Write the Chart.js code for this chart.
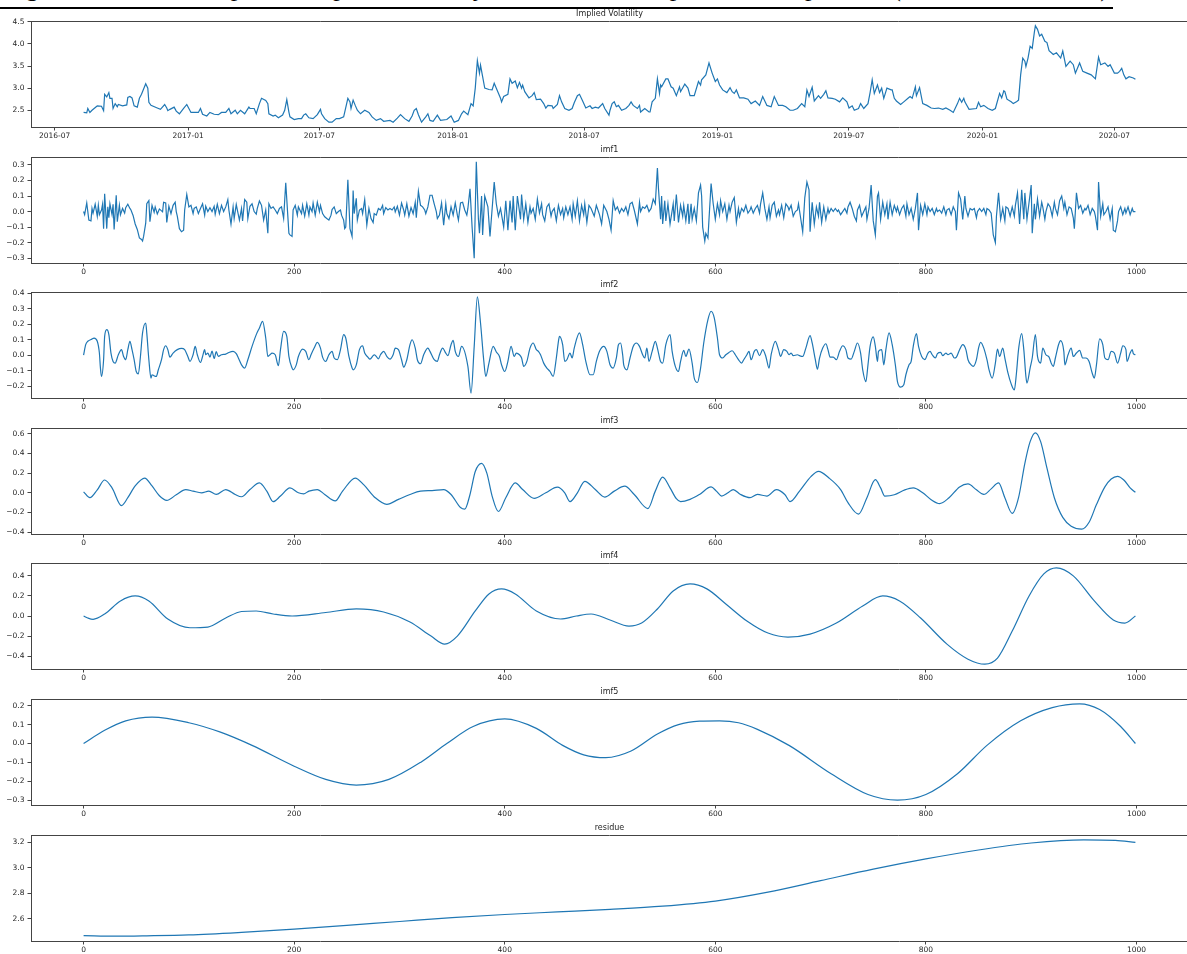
<!DOCTYPE html>
<html>
<head>
<meta charset="utf-8">
<script src="https://cdn.jsdelivr.net/npm/chart.js@4.4.1/dist/chart.umd.min.js"></script>
<style>
  html, body { margin: 0; padding: 0; background: #fff; overflow: hidden; }
  #wrap { position: relative; width: 1187px; height: 954px; overflow: hidden; background: #fff; }
  .panel { position: absolute; left: 0; }
  #caption { position: absolute; left: 4px; top: -25px; margin: 0; font: 26px "Liberation Serif", "DejaVu Serif", serif;
             line-height: 26px; white-space: nowrap; color: #000; }
  #rule { position: absolute; left: 0; top: 7px; width: 1113px; height: 2px; background: #000; }
</style>
</head>
<body>
<div id="wrap">
  <p id="caption">Figure 4: Time series plot of implied volatility and EMD decomposition components (imf1–imf5, residue)</p>
  <div id="rule"></div>
</div>
<script>
// ---- series data: [trading-day index, value] ----
const ivStartDate = '2016-08-10';
const ivEndDate = '2020-07-30';
const dateTickLabels = ['2016-07','2017-01','2017-07','2018-01','2018-07','2019-01','2019-07','2020-01','2020-07'];
const panelTitles = ['Implied Volatility','imf1','imf2','imf3','imf4','imf5','residue'];
const yTickSteps = [0.5, 0.1, 0.1, 0.2, 0.2, 0.1, 0.2];
const indexTickStep = 200;

const ivPoints = [
[0,2.45],[3,2.44],[4,2.54],[6,2.45],[8,2.50],[12,2.58],[13,2.60],[17,2.59],[19,2.49],[20,2.86],[22,2.80],[24,2.90],[25,2.77],[27,2.77],[28,2.54],[30,2.65],[32,2.58],[33,2.63],[37,2.60],[41,2.62],[42,2.79],[44,2.81],[46,2.78],[48,2.60],[51,2.57],[53,2.77],[55,2.86],[59,3.10],[61,3.00],[62,2.68],[64,2.61],[70,2.55],[73,2.52],[77,2.63],[79,2.55],[80,2.49],[82,2.52],[86,2.57],[88,2.48],[91,2.42],[95,2.54],[98,2.63],[100,2.54],[102,2.45],[106,2.45],[109,2.45],[111,2.54],[113,2.41],[117,2.37],[120,2.45],[124,2.41],[128,2.40],[131,2.45],[135,2.45],[138,2.54],[140,2.42],[144,2.50],[146,2.42],[149,2.50],[153,2.42],[157,2.57],[158,2.54],[162,2.54],[164,2.42],[167,2.65],[169,2.77],[173,2.72],[175,2.65],[176,2.42],[180,2.37],[182,2.39],[185,2.33],[189,2.39],[191,2.50],[193,2.74],[195,2.46],[196,2.35],[200,2.29],[204,2.31],[207,2.31],[209,2.39],[211,2.42],[214,2.33],[218,2.31],[222,2.40],[225,2.52],[226,2.42],[229,2.31],[233,2.23],[236,2.23],[240,2.31],[243,2.31],[247,2.35],[251,2.77],[253,2.69],[254,2.54],[256,2.73],[258,2.61],[260,2.50],[263,2.42],[267,2.50],[271,2.45],[274,2.35],[278,2.27],[282,2.31],[285,2.25],[291,2.27],[294,2.23],[298,2.32],[301,2.40],[305,2.31],[309,2.25],[312,2.37],[314,2.50],[316,2.54],[318,2.40],[321,2.23],[325,2.35],[327,2.42],[329,2.27],[332,2.25],[336,2.39],[339,2.27],[345,2.29],[349,2.37],[352,2.23],[356,2.27],[359,2.42],[361,2.48],[365,2.40],[368,2.65],[370,2.60],[372,3.00],[374,3.62],[376,3.34],[377,3.52],[379,3.26],[381,3.00],[385,2.97],[388,2.96],[390,3.11],[392,3.00],[396,2.77],[397,2.69],[399,2.81],[403,2.86],[405,3.21],[407,3.11],[410,3.16],[412,3.01],[414,3.13],[416,3.00],[417,3.07],[419,2.92],[423,2.78],[426,2.83],[428,2.90],[430,2.74],[434,2.75],[437,2.65],[439,2.55],[441,2.61],[445,2.60],[446,2.54],[450,2.63],[452,2.83],[454,2.69],[457,2.54],[461,2.50],[464,2.54],[466,2.67],[469,2.83],[471,2.86],[474,2.71],[477,2.55],[481,2.60],[483,2.54],[486,2.57],
[489,2.55],[493,2.65],[495,2.54],[499,2.39],[500,2.50],[502,2.65],[504,2.69],[506,2.58],[508,2.61],[511,2.50],[515,2.54],[518,2.61],[520,2.69],[522,2.61],[526,2.54],[528,2.61],[529,2.46],[533,2.54],[537,2.46],[538,2.46],[540,2.69],[543,2.77],[545,3.21],[547,2.88],[548,3.07],[549,3.03],[553,3.21],[555,3.21],[558,3.03],[560,3.00],[563,2.83],[566,3.03],[567,2.92],[571,3.09],[574,3.00],[576,2.83],[580,2.83],[584,3.15],[586,3.07],[587,3.19],[591,3.30],[594,3.57],[597,3.34],[600,3.15],[602,3.21],[604,3.07],[607,2.96],[611,2.90],[614,3.01],[616,2.92],[618,2.88],[620,2.96],[623,2.78],[627,2.78],[631,2.75],[634,2.65],[638,2.71],[642,2.61],[645,2.81],[649,2.61],[653,2.58],[656,2.81],[660,2.61],[664,2.61],[667,2.58],[671,2.50],[674,2.50],[678,2.54],[682,2.65],[685,2.58],[687,2.96],[689,2.81],[692,3.02],[694,2.71],[698,2.83],[700,2.77],[703,2.86],[705,2.94],[707,2.78],[711,2.77],[714,2.75],[718,2.69],[721,2.78],[725,2.69],[727,2.55],[730,2.60],[732,2.50],[736,2.54],[738,2.65],[741,2.54],[745,2.65],[747,2.90],[749,3.19],[751,2.88],[754,3.07],[756,2.90],[758,3.00],[760,2.77],[763,3.00],[767,2.96],[768,2.96],[770,2.77],[772,2.71],[776,2.63],[779,2.69],[783,2.77],[785,2.81],[787,2.77],[790,3.03],[791,2.83],[794,3.01],[797,2.65],[801,2.61],[805,2.55],[808,2.54],[812,2.55],[816,2.52],[819,2.55],[823,2.50],[826,2.45],[830,2.65],[832,2.77],[834,2.68],[836,2.77],[837,2.69],[841,2.52],[848,2.54],[850,2.68],[852,2.58],[855,2.61],[859,2.54],[863,2.50],[866,2.54],[870,2.88],[872,2.78],[874,2.94],[875,2.92],[877,2.75],[881,2.69],[883,2.65],[886,2.69],[888,2.73],[890,3.30],[892,3.68],[894,3.61],[895,3.49],[897,3.68],[899,3.95],[901,3.90],[903,4.26],[904,4.41],[906,4.33],[908,4.18],[910,4.22],[913,4.06],[915,4.03],[917,3.85],[921,3.76],[924,3.80],[928,3.68],[930,3.84],[933,3.49],[937,3.61],[940,3.53],[942,3.34],[946,3.57],[949,3.38],[953,3.34],[957,3.30],[961,3.21],[964,3.70],[966,3.53],[970,3.57],[973,3.49],[975,3.53],[979,3.34],[982,3.34],[984,3.38],[986,3.45],[988,3.30],[990,3.21],[993,3.26],[997,3.23],[999,3.20]
];

const imf1Points = [
[0,0],[1,-0.02],[3,0.055],[5,-0.055],[7,-0.06],[8,0.02],[9,-0.01],[11,0.047],[13,-0.03],[14,0.04],[15,-0.02],[17,0.01],[18,0.047],[19,-0.11],[20,0.115],[22,-0.11],[23,0.03],[24,-0.04],[25,0.05],[27,-0.02],[28,0.047],[29,-0.115],[31,0.105],[32,-0.065],[34,0.04],[35,-0.02],[37,0.02],[39,-0.01],[40,0.025],[42,0.047],[44,0.02],[45,0.01],[47,-0.025],[49,-0.08],[51,-0.115],[53,-0.17],[55,-0.18],[56,-0.19],[57,-0.16],[59,-0.075],[60,0.05],[62,0.07],[63,-0.065],[65,0.04],[67,-0.005],[68,0.03],[70,-0.015],[72,0.017],[75,-0.002],[76,0.06],[78,0.055],[79,-0.07],[81,0.035],[83,-0.013],[85,0.04],[87,0.06],[88,0],[89,-0.03],[91,-0.11],[93,-0.13],[95,-0.12],[96,0.01],[98,0.11],[100,0.03],[102,0.04],[104,-0.013],[105,0.02],[107,0.03],[109,-0.013],[111,0.02],[113,0.05],[115,-0.023],[116,0.034],[118,0],[120,0.025],[122,0],[124,0.034],[125,-0.017],[127,0.047],[129,-0.013],[131,0.04],[133,0],[135,0.03],[137,0.077],[138,0.01],[140,-0.08],[142,0.03],[143,-0.045],[145,0.045],[148,-0.055],[150,0.02],[151,-0.06],[153,0.077],[155,0.06],[156,-0.045],[158,0.034],[160,0.05],[162,0],[164,-0.017],[165,0.02],[167,0.068],[169,0.04],[171,-0.055],[173,0.01],[175,-0.14],[176,0.05],[178,0.02],[180,0.03],[182,0.01],[184,-0.013],[186,0.02],[188,0.03],[190,-0.045],[192,0.185],[195,-0.14],[196,-0.15],[198,-0.16],[199,0.01],[201,0.04],[203,-0.023],[204,0.03],[207,-0.013],[208,0.04],[210,-0.03],[212,0.05],[214,-0.023],[215,0.03],[217,0],[218,0.055],[220,-0.023],[222,0.06],[224,0],[225,0.04],[227,-0.013],[229,-0.034],[231,-0.045],[233,-0.055],[235,-0.023],[236,0.013],[238,0.03],[240,-0.013],[242,0],[244,0.01],[245,-0.023],[247,-0.055],[248,-0.11],[249,-0.1],[251,0.205],[252,0.05],[253,-0.11],[255,-0.16],[256,0.135],[257,-0.013],[259,0.085],[260,-0.055],[262,0.01],[264,0.02],[265,-0.013],[267,0.077],[269,-0.087],[271,0.02],[273,-0.045],[275,-0.07],[276,-0.013],[278,-0.023],[280,0.02],[282,0.01],[284,0.04],[285,-0.013],[287,0.025],[289,0.01],[291,0.02],[293,0.01],[295,0.03],[296,-0.002],[298,0.034],[300,-0.023],[302,0.055],[304,0.01],[305,-0.023],[307,0.05],[309,-0.03],[311,0.025],[313,-0.013],[315,0.06],[316,-0.04],[318,0.13],[320,0.04],[322,0.03],[324,0.01],[325,-0.013],[327,0.03],[329,0.105],[331,0.105],[333,0.05],[335,0],[336,-0.045],[338,-0.023],[340,0.055],[342,-0.087],[344,0.05],[345,-0.013],[347,-0.045],[349,0.03],[351,-0.023],[353,0.055],[355,-0.023],[356,-0.055],[358,0.055],[360,0.06],[362,0.01],[364,-0.023],[365,0.02],[367,0.147],[369,-0.1],[371,-0.3],[373,0.32],[375,-0.05],[376,-0.14],[378,0.1],[379,-0.15],[381,0.1],[384,0.03],[386,-0.16],[390,0.19],[392,0.05],[394,-0.03],[396,0.02],[399,-0.1],[401,0.07],[403,-0.12],[405,0.07],[407,-0.07],[408,0.1],[410,-0.12],[412,0.1],[415,-0.05],[416,0.11],[418,-0.05],[420,0.05],[422,-0.07],[424,0.03],[425,-0.01],[427,0.02],[429,-0.05],[431,0.08],[433,-0.01],[435,0.05],[436,-0.02],[438,-0.06],[440,0.03],[442,0.05],[444,-0.03],[445,0],[447,0.02],[449,-0.06],[451,0.04],[453,-0.02],[455,0.02],[456,-0.04],[458,0.03],[460,-0.02],[462,0.03],[464,-0.05],[465,0.05],[467,-0.03],[469,0.07],[471,-0.06],[473,0.04],[475,-0.02],[476,0.05],[478,-0.07],[480,0.04],
[482,0.02],[485,-0.03],[487,0.04],[490,-0.02],[492,-0.08],[494,0.04],[497,0],[499,-0.05],[501,-0.12],[503,0.07],[505,0.01],[507,0.03],[509,-0.01],[511,0.02],[513,0],[515,0.03],[517,-0.02],[519,0.05],[521,0.06],[523,0.01],[526,-0.08],[528,0.06],[529,0],[531,0.03],[533,0.02],[535,0.04],[537,0],[539,0.02],[541,0.08],[543,0.05],[545,0.28],[546,0.15],[548,-0.05],[549,0.1],[550,-0.08],[552,0.07],[553,-0.06],[555,0.05],[557,-0.08],[560,0.05],[561,-0.06],[563,0.11],[565,-0.07],[567,0.04],[569,-0.03],[570,0.04],[572,-0.06],[574,0.05],[575,-0.08],[577,0.05],[578,-0.05],[580,0.02],[582,-0.06],[584,0.12],[586,0.17],[587,0.1],[588,-0.1],[590,-0.19],[591,-0.14],[593,-0.17],[594,-0.05],[596,0.18],[598,0.05],[600,-0.05],[602,0.05],[604,-0.02],[605,0.07],[607,0],[609,0.05],[611,-0.05],[613,0.04],[614,0],[616,0.06],[618,0.09],[620,-0.07],[622,0.02],[623,-0.03],[625,0.02],[627,0],[629,0.04],[631,-0.01],[633,0.01],[634,0.03],[636,-0.01],[638,0.02],[640,0.04],[642,-0.01],[643,0.05],[645,0.12],[647,0.02],[649,-0.05],[651,0.03],[652,-0.04],[654,0.04],[656,0.06],[658,-0.03],[660,0.01],[661,-0.02],[663,0.04],[665,-0.04],[667,0.05],[669,0.03],[670,0.01],[672,0.04],[674,-0.03],[676,0],[678,0.01],[679,0.05],[681,-0.04],[683,-0.13],[685,0.09],[687,0.19],[689,0.14],[690,-0.13],[692,0.06],[694,-0.08],[696,0.03],[698,-0.03],[699,0.06],[701,-0.07],[703,0.03],[705,-0.05],[707,0.02],[708,-0.01],[710,0.02],[712,0],[714,0.02],[716,0],[717,0.01],[719,-0.02],[721,0],[723,0.02],[725,-0.01],[726,0.03],[728,0.06],[730,0.02],[732,-0.03],[734,-0.06],[735,0.01],[737,0.04],[739,-0.03],[741,0],[743,0.03],[744,-0.05],[746,0.02],[748,0.17],[750,-0.06],[752,-0.15],[754,0.1],[755,0.12],[757,-0.05],[759,0.06],[761,-0.02],[763,0.05],[764,-0.05],[766,0.06],[768,-0.02],[770,0.04],[772,0],[773,0.03],[775,-0.02],[777,0.02],[779,0.04],[781,-0.03],[782,0.05],[784,-0.02],[786,0.02],[788,-0.05],[790,0.02],[792,0.12],[793,-0.12],[795,0.04],[797,-0.02],[799,0.05],[801,-0.02],[802,0.03],[804,0],[806,0.02],[808,-0.02],[810,0.02],[811,0],[813,0.01],[815,-0.01],[817,0.03],[819,-0.02],[820,0.01],[822,0.02],[824,-0.02],[826,0.03],[828,0],[829,-0.12],[831,0.12],[833,0.08],[835,-0.05],[837,0.1],[838,0.02],[840,-0.03],[842,0.02],[844,0.01],[846,0.02],[848,-0.04],[849,0],[851,0.02],[853,0],[855,0.02],[857,-0.02],[858,0.02],[860,0.01],[862,-0.01],[864,-0.15],[866,-0.2],[867,-0.03],[869,0.12],[871,-0.05],[873,0.02],[875,-0.06],[876,0.03],[878,0.02],[880,-0.03],[882,0.03],[884,-0.03],[885,0.04],[887,0.12],[889,-0.08],[891,0.14],[893,-0.05],[894,0.12],[896,-0.05],[898,0.06],[900,0.17],[901,-0.14],[903,0.05],[904,-0.05],[906,0.08],[908,-0.03],[910,0.06],[911,0.03],[913,-0.05],[914,0],[916,0.05],[918,0.03],[920,-0.03],[922,0.06],[923,0.02],[925,-0.02],[927,0.07],[929,0.1],[931,0.02],[932,0.06],[934,-0.02],[936,0.03],[938,0.02],[940,-0.04],[941,-0.11],[943,0.12],[945,0.02],[947,0.04],[949,-0.01],[951,0.02],[952,0.01],[954,0.04],[956,-0.02],[958,0.02],[960,0],[961,-0.03],[963,-0.12],[964,0.19],[966,-0.03],[968,0.05],[969,-0.02],[971,0],[973,0.03],[975,-0.05],[977,0.02],[978,-0.12],[980,-0.13],[982,-0.06],[983,0],[985,0.03],[987,-0.02],[989,0.02],[990,-0.01],[992,0.03],[994,-0.02],[996,0.02],[997,0],[999,0]
];

const imf2Points = [
[0,0],[2,0.067],[4,0.089],[7,0.1],[10,0.11],[13,0.089],[15,0.013],[16,-0.084],[17,-0.138],[19,-0.03],[20,0.121],[22,0.164],[24,0.132],[26,0.013],[28,-0.041],[30,-0.052],[33,0.002],[36,0.035],[38,-0.009],[40,-0.03],[42,0.035],[44,0.089],[46,0.035],[48,-0.03],[50,-0.106],[52,-0.121],[54,-0.009],[56,0.143],[59,0.207],[60,0.143],[62,-0.03],[64,-0.149],[65,-0.127],[67,-0.134],[69,-0.138],[71,-0.095],[74,-0.03],[76,0.035],[78,0.06],[80,0.035],[82,-0.013],[85,0.013],[89,0.035],[93,0.043],[96,0.035],[99,-0.009],[101,-0.041],[104,0.002],[106,0.056],[108,0.002],[111,-0.048],[113,-0.009],[115,0.035],[116,0.002],[118,0.013],[120,-0.013],[122,0.026],[124,-0.022],[126,0.022],[128,-0.009],[131,0.002],[135,0.006],[138,0.017],[142,0.024],[145,0.009],[147,-0.019],[150,-0.063],[153,-0.084],[156,-0.03],[160,0.056],[164,0.132],[167,0.175],[170,0.218],[173,0.11],[175,-0.009],[177,0.002],[179,0.013],[182,0.002],[185,-0.069],[187,0.035],[190,0.153],[193,0.121],[195,-0.009],[198,-0.084],[199,-0.095],[202,-0.063],[204,-0.009],[208,0.039],[211,0.024],[214,-0.03],[216,0.002],[219,0.045],[222,0.082],[225,0.045],[227,-0.013],[230,-0.041],[233,0.002],[236,0.024],[238,-0.019],[241,-0.03],[244,0.035],[247,0.132],[249,0.11],[252,-0.009],[255,-0.084],[256,-0.095],[259,-0.063],[262,0.035],[265,0.06],[267,0.013],[270,-0.013],[272,-0.026],[275,-0.004],[276,0.002],[278,-0.009],[280,-0.024],[282,0.002],[285,0.024],[288,-0.009],[291,-0.026],[294,0.002],[296,0.045],[299,0.035],[302,-0.03],[304,-0.078],[307,-0.03],[310,0.067],[312,0.099],[315,0.045],[317,-0.03],[320,-0.056],[323,0.002],[327,0.045],[329,0.024],[333,-0.03],[336,-0.041],[338,0.002],[341,0.045],[344,0.013],[346,-0.004],[349,0.067],[351,0.095],[353,0.024],[356,-0.009],[359,0.056],[365,-0.073],[368,-0.246],[371,0.056],[374,0.376],[377,0.207],[380,-0.03],[382,-0.138],[385,-0.052],[389,0.056],[392,0.02],
[395,-0.009],[397,-0.063],[400,-0.106],[403,-0.041],[406,0.056],[409,-0.009],[411,0.013],[414,0.002],[416,-0.019],[418,-0.073],[421,-0.041],[424,0.045],[427,0.078],[430,0.035],[432,0.024],[434,0.002],[437,-0.052],[440,-0.084],[443,-0.106],[446,-0.138],[449,-0.019],[451,0.089],[452,0.121],[455,0.067],[457,-0.041],[459,-0.03],[462,0.013],[464,-0.019],[466,0.045],[471,0.143],[474,0.067],[477,-0.041],[481,-0.127],[484,-0.127],[487,-0.041],[490,0.024],[494,0.056],[497,0.024],[500,-0.063],[503,-0.084],[506,-0.019],[508,0.067],[510,0.078],[512,0.002],[513,-0.063],[516,-0.095],[519,-0.019],[522,0.056],[525,0.078],[528,0.056],[531,0.002],[533,-0.019],[535,0.045],[537,-0.041],[540,0.024],[543,0.089],[545,0.045],[548,-0.041],[550,-0.052],[553,0.067],
[557,0.132],[559,0.024],[562,-0.073],[565,-0.106],[567,-0.041],[570,0.03],[572,-0.009],[575,0.039],[578,-0.052],[580,-0.149],[583,-0.177],[586,-0.084],[589,0.078],[593,0.229],[596,0.283],[599,0.24],[602,0.11],[604,0.002],[607,-0.019],[610,0.002],[613,0.017],[616,0.028],[619,0.002],[622,-0.03],[625,-0.052],[627,-0.03],[630,0.002],[632,0.024],[634,-0.03],[637,0.024],[639,0.035],[642,-0.004],[645,0.035],[648,-0.009],[651,-0.084],[653,0.002],[657,0.089],[660,0.035],[662,-0.009],[665,0.035],[668,0.024],[670,0.002],[672,0.013],[674,-0.004],[678,0.002],[680,-0.004],[683,-0.009],[686,0.045],[690,0.125],[692,0.078],[695,-0.03],[697,-0.091],[699,-0.019],[702,0.045],[705,0.073],[707,0.035],[709,-0.013],[712,-0.013],[715,-0.03],[718,0.024],[721,0.06],[724,0.035],[726,-0.019],[729,-0.026],[732,0.024],[735,0.078],[738,0.013],[740,-0.095],[743,-0.171],[745,-0.063],[747,0.056],[750,0.117],[752,0.056],[754,-0.041],[755,0.024],[758,0.035],[760,-0.063],[762,0.035],[765,0.143],[768,0.067],[771,-0.063],[773,-0.171],[776,-0.207],[779,-0.192],[781,-0.127],[784,-0.063],[786,-0.041],[788,0.056],[791,0.138],[793,0.056],[796,-0.009],[799,-0.03],[802,0.013],[804,0.024],[806,0.002],[809,-0.019],[811,0.009],[814,0.017],[816,-0.004],[819,0.013],[821,0.002],[824,0.013],[827,-0.019],[829,-0.013],[832,0.035],[835,0.067],[838,0.035],[840,-0.03],[843,-0.063],[845,-0.073],[848,-0.03],[850,0.045],[852,0.082],[855,0.045],[858,-0.03],[860,-0.095],[863,-0.149],[866,-0.052],[868,0.039],[870,-0.009],[873,0.045],[875,-0.019],[878,-0.117],[881,-0.186],[884,-0.225],[886,-0.117],[888,0.035],[891,0.138],[893,0.035],[895,-0.138],[896,-0.181],[899,-0.084],[901,-0.019],[904,0.132],[906,-0.009],[909,-0.052],[911,0.045],[914,0.002],[917,-0.013],[919,-0.052],[921,-0.073],[923,-0.019],[926,0.067],[928,0.093],[931,0.024],[932,-0.063],[935,0.002],[938,0.045],[940,-0.009],[943,0.013],[946,0.03],[949,-0.019],[952,-0.019],[955,-0.041],[958,-0.117],[960,-0.149],[962,-0.063],[965,0.104],[968,0.067],[970,-0.019],[973,-0.03],[976,0.024],[979,0.013],[982,-0.052],[985,0.013],[987,0.06],[990,0.035],[991,-0.041],[994,0.013],[996,0.035],[997,0.009],[999,0.002]
];

const imf3Points = [
[0,0.01],[6,-0.05],[13,0.03],[20,0.13],[27,0.05],[36,-0.13],[42,-0.05],[49,0.07],[58,0.15],[65,0.07],[72,-0.03],[79,-0.077],[88,-0.02],[97,0.033],[104,0.017],[112,0],[119,0.017],[126,-0.017],[135,0.033],[144,-0.017],[150,-0.04],[158,0.033],[167,0.1],[174,0.017],[180,-0.09],[187,-0.033],[196,0.05],[204,0],[209,-0.01],[214,0.017],[222,0.033],[229,-0.017],[239,-0.083],[246,0.017],[258,0.15],[266,0.083],[277,-0.05],[288,-0.117],[299,-0.067],[310,-0.017],[320,0.017],[331,0.023],[342,0.033],[349,-0.017],[358,-0.15],[362,-0.167],[367,-0.017],[372,0.217],[378,0.3],[383,0.2],[388,-0.033],[394,-0.19],[401,-0.05],[410,0.1],[417,0.033],[428,-0.057],[439,0],[450,0.057],[457,0],[462,-0.09],[469,0],[476,0.117],[486,0.033],[495,-0.043],[504,0.017],[514,0.067],[523,-0.017],[536,-0.16],[543,0.017],[550,0.16],[557,0.05],[563,-0.06],[567,-0.09],[576,-0.067],[585,-0.017],[596,0.06],[601,0.017],[606,-0.033],[612,0],[617,0.033],[624,-0.017],[633,-0.05],[640,-0.017],[649,-0.033],[658,0.033],[666,-0.017],[671,-0.09],[680,0.017],[691,0.167],[698,0.217],[708,0.15],[719,0.033],[726,-0.1],[736,-0.217],[744,-0.05],[752,0.133],[757,0.05],[761,-0.033],[770,-0.02],[780,0.03],[788,0.05],[797,0],[805,-0.07],[813,-0.11],[822,-0.05],[832,0.06],[840,0.09],[848,0.03],[855,-0.017],[862,0.04],[869,0.1],[875,-0.05],[882,-0.21],[888,-0.05],[894,0.3],[899,0.52],[904,0.61],[909,0.52],[915,0.25],[922,-0.05],[930,-0.25],[938,-0.34],[948,-0.37],[955,-0.3],[962,-0.12],[970,0.06],[976,0.14],[982,0.167],[988,0.13],[994,0.05],[999,0.005]
];

const imf4Points = [
[0,0],[4,-0.02],[9,-0.033],[20,0.02],[35,0.15],[49,0.2],[62,0.15],[80,-0.03],[101,-0.117],[118,-0.11],[135,-0.02],[150,0.045],[164,0.05],[180,0.02],[198,0],[230,0.035],[259,0.07],[285,0.04],[310,-0.06],[330,-0.2],[343,-0.28],[355,-0.2],[372,0.05],[385,0.22],[397,0.27],[410,0.22],[430,0.05],[453,-0.03],[468,0],[482,0.02],[500,-0.04],[518,-0.1],[530,-0.07],[545,0.07],[560,0.25],[576,0.32],[592,0.27],[610,0.12],[630,-0.05],[650,-0.17],[669,-0.21],[690,-0.18],[715,-0.07],[740,0.1],[759,0.2],[775,0.15],[795,-0.02],[820,-0.28],[840,-0.43],[856,-0.48],[868,-0.42],[882,-0.15],[898,0.2],[912,0.42],[924,0.48],[940,0.4],[960,0.15],[978,-0.04],[989,-0.07],[999,0]
];

const imf5Points = [
[0,0],[20,0.07],[40,0.12],[65,0.14],[100,0.11],[130,0.06],[160,-0.01],[200,-0.12],[230,-0.19],[259,-0.22],[290,-0.19],[320,-0.1],[345,0],[370,0.09],[400,0.13],[430,0.08],[455,-0.01],[475,-0.06],[496,-0.075],[520,-0.04],[545,0.05],[565,0.1],[585,0.118],[604,0.12],[622,0.11],[640,0.075],[670,-0.01],[710,-0.16],[745,-0.27],[773,-0.3],[800,-0.27],[830,-0.16],[858,-0.01],[890,0.12],[920,0.19],[946,0.21],[965,0.18],[985,0.09],[999,0]
];

const residuePoints = [
[0,2.47],[30,2.465],[60,2.468],[100,2.475],[150,2.495],[200,2.52],[250,2.55],[300,2.58],[350,2.61],[400,2.635],[450,2.655],[500,2.675],[550,2.7],[600,2.74],[650,2.81],[700,2.9],[750,2.99],[800,3.07],[850,3.14],[900,3.195],[950,3.22],[980,3.215],[999,3.2]
];

// ---- drawing ----
const DAY_MS = 86400000;
const dayOf = s => Date.parse(s + 'T00:00:00Z') / DAY_MS;
const ivDay0 = dayOf(ivStartDate), ivDay1 = dayOf(ivEndDate);
const ivLastIndex = ivPoints[ivPoints.length - 1][0];
const indexToDay = i => ivDay0 + i * (ivDay1 - ivDay0) / ivLastIndex;

const allSeries = [ivPoints, imf1Points, imf2Points, imf3Points, imf4Points, imf5Points, residuePoints];
const smoothSeries = [false, false, true, true, true, true, true];

const FONT = 'DejaVu Sans';
const TEXT = '#262626';
const AXIS = '#444';
const LINE = '#1f77b4';

const fmt1 = v => {
  const r = Math.round(v * 10) / 10;
  return (r < 0 ? '\u2212' : '') + Math.abs(r).toFixed(1);
};

// top and right spines of each axes box
const frame = {
  id: 'frame',
  afterDraw(c) {
    const { ctx, chartArea: a } = c;
    ctx.save();
    ctx.strokeStyle = AXIS;
    ctx.lineWidth = 1;
    ctx.beginPath();
    ctx.moveTo(a.left, Math.round(a.top) + 0.5);
    ctx.lineTo(a.right, Math.round(a.top) + 0.5);
    ctx.moveTo(Math.round(a.right) - 0.5, a.top);
    ctx.lineTo(Math.round(a.right) - 0.5, a.bottom);
    ctx.stroke();
    ctx.restore();
  }
};

const PANEL_TOP0 = 21, PANEL_STEP = 135.6, AREA_H = 106, TITLE_H = 12, XAXIS_H = 18;
const wrap = document.getElementById('wrap');

allSeries.forEach((series, k) => {
  const isDate = k === 0;
  const pts = series.map(([i, v]) => ({ x: isDate ? indexToDay(i) : i, y: v }));
  const xs = pts.map(p => p.x), ys = pts.map(p => p.y);
  const xLo = Math.min(...xs), xHi = Math.max(...xs);
  const yLo = Math.min(...ys), yHi = Math.max(...ys);
  const xPad = 0.05 * (xHi - xLo), yPad = 0.05 * (yHi - yLo);

  const canvas = document.createElement('canvas');
  canvas.className = 'panel';
  canvas.width = 1200;
  canvas.height = TITLE_H + AREA_H + XAXIS_H;
  canvas.style.width = '1200px';
  canvas.style.height = canvas.height + 'px';
  canvas.style.top = (PANEL_TOP0 + k * PANEL_STEP - TITLE_H) + 'px';
  wrap.appendChild(canvas);

  const dateTicks = dateTickLabels.map(s => ({ value: dayOf(s + '-01'), label: s }));

  new Chart(canvas, {
    type: 'line',
    data: {
      datasets: [{
        data: pts,
        borderColor: LINE,
        borderWidth: 1.2,
        pointRadius: 0,
        fill: false,
        tension: smoothSeries[k] ? 0.4 : 0,
        cubicInterpolationMode: smoothSeries[k] ? 'monotone' : 'default'
      }]
    },
    options: {
      responsive: false,
      animation: false,
      devicePixelRatio: 1,
      events: [],
      layout: { padding: { left: 0, right: 12, top: 0, bottom: 0 } },
      plugins: {
        legend: { display: false },
        tooltip: { enabled: false },
        title: {
          display: true,
          text: panelTitles[k],
          fullSize: false,
          color: TEXT,
          font: { family: FONT, size: 8, weight: 'normal', lineHeight: 1.15 },
          padding: { top: 0, bottom: 2.8 }
        }
      },
      scales: {
        x: {
          type: 'linear',
          min: xLo - xPad,
          max: xHi + xPad,
          afterFit: s => { s.height = XAXIS_H; },
          afterBuildTicks: isDate ? (s => { s.ticks = dateTicks.map(t => ({ value: t.value })); }) : undefined,
          ticks: {
            stepSize: isDate ? undefined : indexTickStep,
            includeBounds: false,
            maxRotation: 0,
            autoSkip: false,
            padding: 1,
            color: TEXT,
            font: { family: FONT, size: 7.5 },
            callback: isDate
              ? (v => { const t = dateTicks.find(d => d.value === v); return t ? t.label : ''; })
              : (v => String(v))
          },
          grid: { display: true, drawOnChartArea: false, drawTicks: true, tickLength: 3.5, color: AXIS, lineWidth: 1 },
          border: { display: true, color: AXIS, width: 1 }
        },
        y: {
          type: 'linear',
          min: yLo - yPad,
          max: yHi + yPad,
          afterFit: s => { s.width = 31; },
          ticks: {
            stepSize: yTickSteps[k],
            includeBounds: false,
            padding: 3,
            color: TEXT,
            font: { family: FONT, size: 7.5 },
            callback: v => fmt1(v)
          },
          grid: { display: true, drawOnChartArea: false, drawTicks: true, tickLength: 3.5, color: AXIS, lineWidth: 1 },
          border: { display: true, color: AXIS, width: 1 }
        }
      }
    },
    plugins: [frame]
  });
});
</script>
</body>
</html>
